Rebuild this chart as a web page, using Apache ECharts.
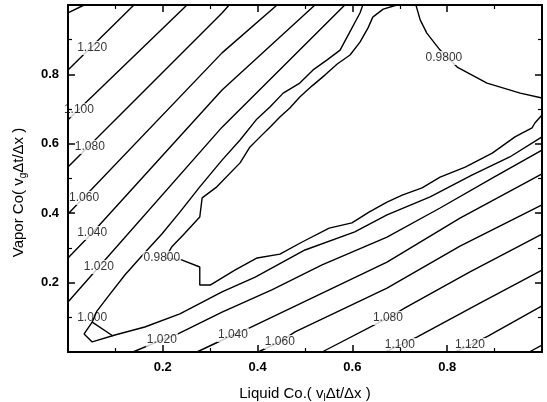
<!DOCTYPE html>
<html>
<head>
<meta charset="utf-8">
<script src="https://cdn.jsdelivr.net/npm/echarts@6/dist/echarts.min.js"></script>
<style>
html, body { margin: 0; padding: 0; background: #fff; }
#chart { width: 547px; height: 402px; }
</style>
</head>
<body>
<div id="chart"></div>
<script>
// contour lines, points are [liquid Co, vapor Co]
const line1140a = [[0, 0.977], [0.034, 1.0]];
const line1120a = [[0, 0.813], [0.139, 1.0]];
const line1100a = [[0, 0.669], [0.251, 1.0]];
const line1080a = [[0, 0.533], [0.325, 0.977], [0.340, 1.0]];
const line1060a = [[0, 0.398], [0.325, 0.862], [0.441, 1.0]];
const line1040a = [[0, 0.271], [0.051, 0.343], [0.325, 0.755], [0.521, 1.0]];
const line1020a = [[0, 0.144], [0.065, 0.245], [0.325, 0.648], [0.584, 1.0]];

const line1000 = [
  [0.622, 1.0], [0.616, 0.977], [0.589, 0.908], [0.574, 0.870], [0.546, 0.841],
  [0.517, 0.813], [0.489, 0.775], [0.454, 0.746], [0.426, 0.706], [0.397, 0.669],
  [0.363, 0.611], [0.325, 0.553], [0.278, 0.476], [0.236, 0.403], [0.198, 0.340],
  [0.158, 0.280], [0.120, 0.222], [0.084, 0.159], [0.061, 0.118],
  [0.051, 0.086], [0.034, 0.052], [0.051, 0.029], [0.099, 0.049], [0.162, 0.072],
  [0.236, 0.110], [0.325, 0.173], [0.395, 0.216], [0.500, 0.294], [0.605, 0.346],
  [0.673, 0.395], [0.764, 0.447], [0.852, 0.510], [0.932, 0.562], [1.0, 0.620]
];
const line1000b = [[0.051, 0.086], [0.095, 0.046]];

const line0980a = [
  [0.694, 1.0], [0.665, 0.988], [0.643, 0.965], [0.633, 0.934], [0.616, 0.893],
  [0.595, 0.856], [0.568, 0.830], [0.542, 0.798], [0.515, 0.767], [0.489, 0.735],
  [0.468, 0.703], [0.447, 0.677], [0.426, 0.648], [0.409, 0.625], [0.384, 0.591],
  [0.363, 0.545], [0.314, 0.476], [0.283, 0.444], [0.278, 0.389], [0.243, 0.337],
  [0.219, 0.303], [0.205, 0.271],
  [0.241, 0.265], [0.278, 0.245], [0.278, 0.193], [0.300, 0.193], [0.352, 0.236],
  [0.399, 0.271], [0.447, 0.282], [0.494, 0.317], [0.551, 0.357], [0.599, 0.372],
  [0.635, 0.403], [0.673, 0.432], [0.705, 0.452], [0.747, 0.473], [0.785, 0.504],
  [0.838, 0.533], [0.895, 0.573], [0.943, 0.620], [0.979, 0.646], [0.985, 0.660],
  [1.0, 0.683]
];
const line0980b = [
  [0.734, 1.0], [0.743, 0.957], [0.757, 0.919], [0.785, 0.870], [0.821, 0.821],
  [0.884, 0.775], [0.954, 0.746], [1.0, 0.732]
];

const line1020b = [
  [0.137, 0], [0.198, 0.035], [0.232, 0.052], [0.325, 0.115], [0.430, 0.179],
  [0.536, 0.251], [0.673, 0.331], [0.785, 0.415], [0.895, 0.501], [1.0, 0.582]
];
const line1040b = [[0.272, 0], [0.348, 0.049], [0.382, 0.069], [0.673, 0.259], [0.827, 0.386], [1.0, 0.513]];
const line1060b = [[0.401, 0], [0.447, 0.029], [0.479, 0.058], [0.673, 0.184], [0.827, 0.305], [1.0, 0.424]];
const line1080b = [[0.536, 0], [0.675, 0.098], [0.711, 0.127], [0.848, 0.231], [1.0, 0.340]];
const line1100b = [[0.669, 0], [0.700, 0.020], [0.736, 0.043], [0.869, 0.141], [1.0, 0.236]];
const line1120b = [[0.816, 0], [0.848, 0.020], [0.886, 0.046], [1.0, 0.133]];
const line1140b = [[0.973, 0], [1.0, 0.020]];

const contourLines = [
  line1140a, line1120a, line1100a, line1080a, line1060a, line1040a, line1020a,
  line1000, line1000b, line0980a, line0980b,
  line1020b, line1040b, line1060b, line1080b, line1100b, line1120b, line1140b
];

// contour labels that break the line: [x, y, text]
const boxedLabels = [
  [0.051, 0.876, '1.120'],
  [0.023, 0.697, '1.100'],
  [0.046, 0.591, '1.080'],
  [0.034, 0.444, '1.060'],
  [0.051, 0.343, '1.040'],
  [0.065, 0.245, '1.020'],
  [0.198, 0.271, '0.9800'],
  [0.793, 0.847, '0.9800'],
  [0.198, 0.035, '1.020'],
  [0.348, 0.049, '1.040'],
  [0.447, 0.029, '1.060'],
  [0.675, 0.098, '1.080'],
  [0.700, 0.020, '1.100'],
  [0.848, 0.020, '1.120']
];
// labels the line runs through
const plainLabels = [
  [0.051, 0.098, '1.000']
];

const ticks = [0, 0.2, 0.4, 0.6, 0.8, 1.0];

var myChart = echarts.init(document.getElementById('chart'));

const fontName = 'Liberation Sans, Arial, sans-serif';
const subStyle = { fontSize: 10, fontFamily: fontName, color: '#000', padding: [8, 0, 0, 0] };

function frameAxis(pos, withLabels, name) {
  const ax = {
    type: 'value',
    position: pos,
    min: ticks[0],
    max: ticks[ticks.length - 1],
    interval: ticks[1] - ticks[0],
    z: 10,
    axisLine: { onZero: false, lineStyle: { color: '#000', width: 2 } },
    axisTick: { inside: true, length: 7, lineStyle: { color: '#000', width: 1.5 } },
    minorTick: { show: true, splitNumber: 2, length: 4, lineStyle: { color: '#000', width: 1.2 } },
    splitLine: { show: false },
    axisLabel: {
      show: withLabels,
      showMinLabel: false,
      showMaxLabel: false,
      color: '#000',
      fontSize: 13,
      fontWeight: 'bold',
      fontFamily: fontName,
      margin: 9
    }
  };
  if (name) {
    ax.name = name;
    ax.nameLocation = 'middle';
    ax.nameTextStyle = {
      color: '#000',
      fontSize: 15,
      fontFamily: fontName,
      rich: { sub: subStyle }
    };
  }
  return ax;
}

const xBottom = frameAxis('bottom', true, 'Liquid Co.( v{sub|l}Δt/Δx )');
xBottom.nameGap = 33;
const yLeft = frameAxis('left', true, 'Vapor Co( v{sub|g}Δt/Δx )');
yLeft.nameGap = 40;
yLeft.nameRotate = 90;
yLeft.nameTextStyle.padding = [0, 28, 0, 0];

const series = contourLines.map(function (pts) {
  return {
    type: 'line',
    data: pts,
    showSymbol: false,
    symbol: 'none',
    clip: true,
    lineStyle: { color: '#000', width: 1.4 },
    z: 2
  };
});

function labelSeries(list, boxed) {
  return {
    type: 'scatter',
    data: list.map(function (d) { return { value: [d[0], d[1]], name: d[2] }; }),
    symbolSize: 0,
    z: 4,
    label: {
      show: true,
      position: 'inside',
      formatter: '{b}',
      color: '#000',
      fontSize: 12,
      fontFamily: fontName,
      backgroundColor: boxed ? '#fff' : 'transparent',
      padding: boxed ? [1, 1] : 0
    }
  };
}
series.push(labelSeries(boxedLabels, true));
series.push(labelSeries(plainLabels, false));

const option = {
  animation: false,
  backgroundColor: '#fff',
  grid: { left: 68, right: 5, top: 5, bottom: 50, outerBoundsMode: 'none' },
  xAxis: [xBottom, frameAxis('top', false)],
  yAxis: [yLeft, frameAxis('right', false)],
  series: series
};

option && myChart.setOption(option);
</script>
</body>
</html>
